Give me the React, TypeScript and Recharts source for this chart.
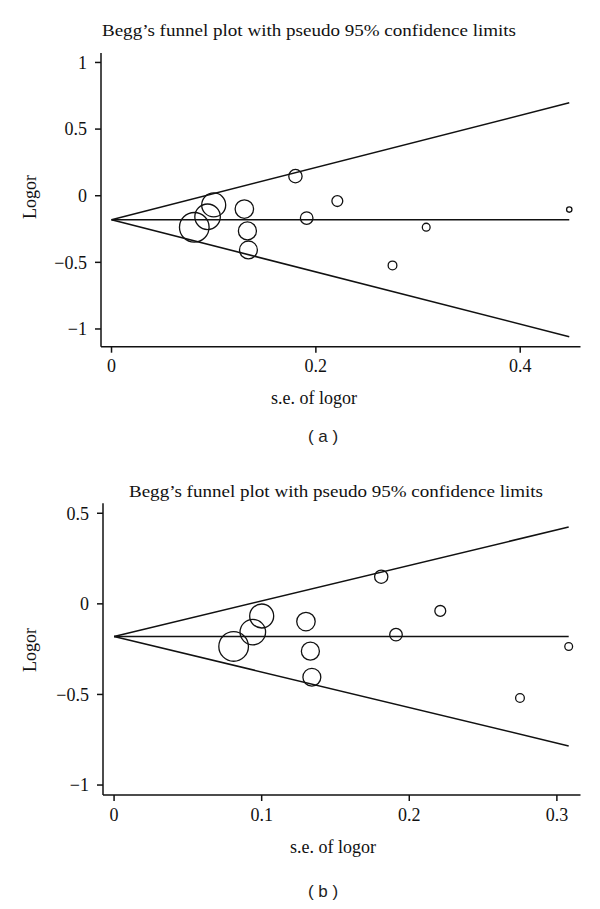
import React from "react";
import { ScatterChart, Scatter, XAxis, YAxis } from "recharts";

// panel (a): all 12 studies
const SE_A = [0.081, 0.094, 0.1, 0.13, 0.133, 0.134, 0.18, 0.191, 0.221, 0.275, 0.308, 0.448];
const LOGOR_A = [-0.237, -0.158, -0.069, -0.1, -0.264, -0.407, 0.147, -0.168, -0.04, -0.523, -0.236, -0.104];

// panel (b): 11 studies
const SE_B = [0.081, 0.094, 0.1, 0.13, 0.133, 0.134, 0.181, 0.191, 0.221, 0.275, 0.308];
const LOGOR_B = [-0.235, -0.156, -0.067, -0.098, -0.261, -0.405, 0.15, -0.17, -0.039, -0.52, -0.235];

// pseudo 95% limits, read at se = 0 and at the largest se
const LIMIT_SE_A = [0, 0.448];
const UPPER_A = [-0.18, 0.697];
const MID_A = [-0.18, -0.18];
const LOWER_A = [-0.18, -1.058];

const LIMIT_SE_B = [0, 0.308];
const UPPER_B = [-0.18, 0.424];
const MID_B = [-0.18, -0.18];
const LOWER_B = [-0.18, -0.784];

const X_TICKS_A = [0, 0.2, 0.4];
const X_TICKS_B = [0, 0.1, 0.2, 0.3];
const Y_TICKS_A = [-1, -0.5, 0, 0.5, 1];
const Y_TICKS_B = [-1, -0.5, 0, 0.5];

const TITLE = "Begg\u2019s funnel plot with pseudo 95% confidence limits";
const X_LABEL = "s.e. of logor";
const Y_LABEL = "Logor";

const INK = "#111";
const SERIF = "'Liberation Serif', 'Times New Roman', serif";

const pts = (xs: number[], ys: number[]) => xs.map((se, i) => ({ se, logor: ys[i] }));
const fmt = (v: number) => (v < 0 ? "\u2212" + Math.abs(v) : String(v));

// marker radius goes with the study weight (1/se)
const Ring = (p: any) => (
  <circle cx={p.cx} cy={p.cy} r={1.2 / p.payload.se} fill="none" stroke={INK} strokeWidth={1.3} />
);
const NoDot = () => <g />;

type PanelProps = {
  top: number;
  height: number;
  margin: { top: number; right: number; bottom: number; left: number };
  xDomain: [number, number];
  yDomain: [number, number];
  xTicks: number[];
  yTicks: number[];
  se: number[];
  logor: number[];
  limSe: number[];
  upper: number[];
  mid: number[];
  lower: number[];
  titleAt: [number, number];
  xLabelAt: [number, number];
  yLabelAt: [number, number];
  caption: string;
  captionAt: [number, number];
};

function Txt({ at, children, style }: { at: [number, number]; children: React.ReactNode; style?: React.CSSProperties }) {
  return (
    <div
      style={{
        position: "absolute",
        left: at[0],
        top: at[1],
        transform: "translate(-50%, -50%)",
        whiteSpace: "nowrap",
        fontFamily: SERIF,
        color: INK,
        ...style,
      }}
    >
      {children}
    </div>
  );
}

function Panel(p: PanelProps) {
  const tick = { fontSize: 18, fill: INK, fontFamily: SERIF };
  const line = { stroke: INK, strokeWidth: 1.5 };
  return (
    <div style={{ position: "absolute", left: 0, top: p.top, width: 600, height: p.height }}>
      <ScatterChart width={600} height={p.height} margin={p.margin}>
        <XAxis
          type="number"
          dataKey="se"
          domain={p.xDomain}
          ticks={p.xTicks}
          allowDataOverflow
          height={30}
          tick={tick}
          tickFormatter={fmt}
          tickSize={6}
          tickMargin={7}
          axisLine={line}
          tickLine={line}
        />
        <YAxis
          type="number"
          dataKey="logor"
          domain={p.yDomain}
          ticks={p.yTicks}
          allowDataOverflow
          width={60}
          tick={tick}
          tickFormatter={fmt}
          tickSize={6}
          tickMargin={8}
          axisLine={line}
          tickLine={line}
        />
        <Scatter data={pts(p.limSe, p.upper)} line={line} shape={NoDot} isAnimationActive={false} />
        <Scatter data={pts(p.limSe, p.mid)} line={line} shape={NoDot} isAnimationActive={false} />
        <Scatter data={pts(p.limSe, p.lower)} line={line} shape={NoDot} isAnimationActive={false} />
        <Scatter data={pts(p.se, p.logor)} shape={Ring} isAnimationActive={false} />
      </ScatterChart>
      <Txt at={p.titleAt} style={{ fontSize: 17, transform: "translate(-50%, -50%) scaleX(1.12)" }}>{TITLE}</Txt>
      <Txt at={p.xLabelAt} style={{ fontSize: 18 }}>{X_LABEL}</Txt>
      <Txt at={p.yLabelAt} style={{ fontSize: 18, transform: "translate(-50%, -50%) rotate(-90deg)" }}>{Y_LABEL}</Txt>
      <Txt at={p.captionAt} style={{ fontSize: 17, fontFamily: "'Liberation Sans', Arial, sans-serif", color: "#222" }}>{p.caption}</Txt>
    </div>
  );
}

export default function App() {
  return (
    <div style={{ position: "absolute", left: 0, top: 0, width: 600, height: 909, background: "#fff" }}>
      <Panel
        top={0}
        height={460}
        margin={{ top: 53, right: 19.5, bottom: 83.3, left: 41 }}
        xDomain={[-0.0103, 0.459]}
        yDomain={[-1.133, 1.071]}
        xTicks={X_TICKS_A}
        yTicks={Y_TICKS_A}
        se={SE_A}
        logor={LOGOR_A}
        limSe={LIMIT_SE_A}
        upper={UPPER_A}
        mid={MID_A}
        lower={LOWER_A}
        titleAt={[309, 31]}
        xLabelAt={[314, 398]}
        yLabelAt={[30, 197]}
        caption="( a )"
        captionAt={[323, 437]}
      />
      <Panel
        top={460}
        height={449}
        margin={{ top: 43.3, right: 19.5, bottom: 84, left: 43 }}
        xDomain={[-0.0075, 0.316]}
        yDomain={[-1.055, 0.555]}
        xTicks={X_TICKS_B}
        yTicks={Y_TICKS_B}
        se={SE_B}
        logor={LOGOR_B}
        limSe={LIMIT_SE_B}
        upper={UPPER_B}
        mid={MID_B}
        lower={LOWER_B}
        titleAt={[336, 32]}
        xLabelAt={[333, 387]}
        yLabelAt={[30, 190]}
        caption="( b )"
        captionAt={[323, 432]}
      />
    </div>
  );
}
